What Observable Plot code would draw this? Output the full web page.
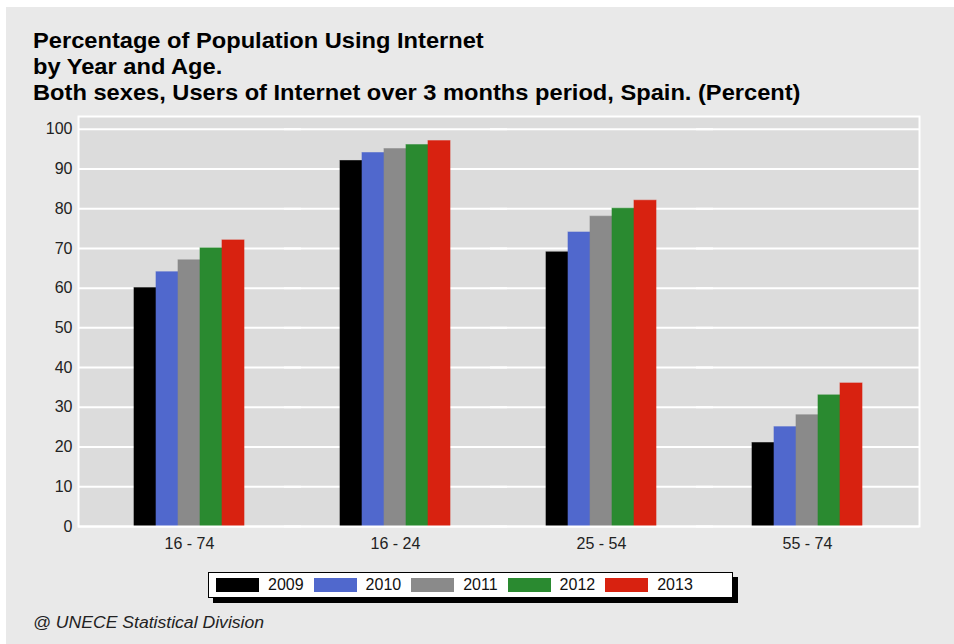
<!DOCTYPE html>
<html>
<head>
<meta charset="utf-8">
<script src="https://cdn.jsdelivr.net/npm/d3@7"></script>
<script src="https://cdn.jsdelivr.net/npm/@observablehq/plot@0.6"></script>
<style>
  html, body { margin: 0; padding: 0; background: #ffffff; width: 954px; height: 644px; overflow: hidden; }
  #wrap { position: absolute; left: 6px; top: 7px; width: 948px; height: 637px; background: #e9e9e9;
          font-family: "Liberation Sans", Arial, sans-serif; }
  #title { position: absolute; left: 27px; top: 21px; font-weight: bold; font-size: 22px; line-height: 26px; color: #000;
           transform: scaleX(1.075); transform-origin: left top; white-space: nowrap; }
  #chart { position: absolute; left: -6px; top: 93px; }
  #legend { position: absolute; left: 202px; top: 565px; width: 523px; height: 24px; background: #fff;
            border: 1px solid #000; box-shadow: 5px 5px 0 #000; display: flex; align-items: center; }
  .item { display: flex; align-items: center; margin-left: 7px; margin-right: 3px; font-size: 16px; color: #111; }
  .sw { width: 43px; height: 14px; margin-right: 9px; }
  #caption { position: absolute; left: 27px; top: 607px; font-style: italic; font-size: 16px; color: #222;
             transform: scaleX(1.1); transform-origin: left top; white-space: nowrap; }
</style>
</head>
<body>
<div id="wrap">
  <div id="title">Percentage of Population Using Internet<br>by Year and Age.<br>Both sexes, Users of Internet over 3 months period, Spain. (Percent)</div>
  <div id="chart"></div>
  <div id="legend"></div>
  <div id="caption">@ UNECE Statistical Division</div>
</div>
<script>
const ages = ["16 - 74", "16 - 24", "25 - 54", "55 - 74"];
const years = ["2009", "2010", "2011", "2012", "2013"];
const colors = ["#000000", "#5068cd", "#8a8a8a", "#2a8a30", "#d82210"];
const v2009 = [60, 92, 69, 21];
const v2010 = [64, 94, 74, 25];
const v2011 = [67, 95, 78, 28];
const v2012 = [70, 96, 80, 33];
const v2013 = [72, 97, 82, 36];
const yTicks = [0, 10, 20, 30, 40, 50, 60, 70, 80, 90, 100];

const series = [v2009, v2010, v2011, v2012, v2013];
const data = [];
ages.forEach((a, i) => years.forEach((y, j) => data.push({age: a, year: y, value: series[j][i]})));

const chart = Plot.plot({
  width: 954,
  height: 460,
  marginLeft: 86,
  marginRight: 44,
  marginTop: 16,
  marginBottom: 34,
  style: {background: "transparent", fontFamily: "Liberation Sans, Arial, sans-serif"},
  fx: {domain: ages, padding: 0, label: null, axis: null},
  x: {domain: years, paddingInner: 0, paddingOuter: 2.1, axis: null},
  y: {domain: [0, 103.2], label: null},
  color: {domain: years, range: colors},
  marks: [
    Plot.frame({fill: "#dcdcdc", stroke: "none", facet: "super", insetLeft: -8, insetRight: -9}),
    Plot.ruleY(yTicks, {stroke: "#ffffff", strokeWidth: 2, insetLeft: -8, insetRight: -9}),
    Plot.barY(data, {fx: "age", x: "year", y: "value", fill: "year", stroke: "year", strokeOpacity: 0.6, strokeWidth: 1}),
    Plot.frame({stroke: "#ffffff", strokeWidth: 2, facet: "super", insetLeft: -8, insetRight: -9}),
    Plot.axisY(yTicks, {tickSize: 0, tickPadding: 14, fontSize: 16, fill: "#222", label: null}),
    Plot.axisFx({anchor: "bottom", tickSize: 0, tickPadding: 11, fontSize: 16, fill: "#222", label: null})
  ]
});
document.getElementById("chart").appendChild(chart);

const legend = document.getElementById("legend");
years.forEach((y, j) => {
  const it = document.createElement("div");
  it.className = "item";
  const sw = document.createElement("div");
  sw.className = "sw";
  sw.style.background = colors[j];
  it.appendChild(sw);
  const t = document.createElement("span");
  t.textContent = y;
  it.appendChild(t);
  legend.appendChild(it);
});
</script>
</body>
</html>
